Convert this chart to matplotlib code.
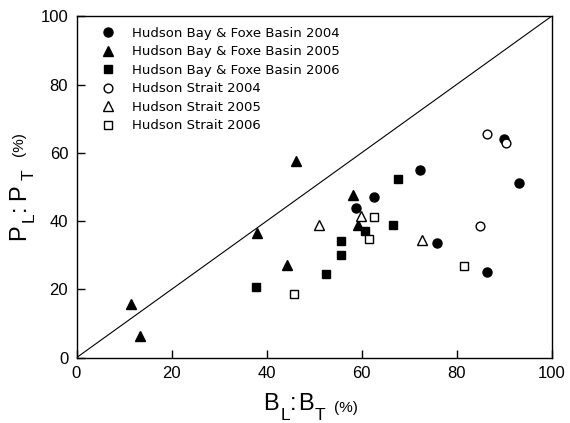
import matplotlib
matplotlib.use("Agg")
import matplotlib.pyplot as plt

plt.rcParams['font.family'] = ['Liberation Sans', 'DejaVu Sans']

# Data (B_L:B_T %, P_L:P_T %)
hbfb2004_x = [58.8, 62.7, 72.3, 75.9, 86.4, 89.9, 93.2]
hbfb2004_y = [43.9, 47.1, 55.0, 33.6, 25.1, 64.0, 51.2]
hbfb2005_x = [11.4, 13.4, 37.9, 44.3, 46.2, 58.3, 59.3]
hbfb2005_y = [15.8, 6.3, 36.4, 27.1, 57.7, 47.6, 39.0]
hbfb2006_x = [37.7, 52.6, 55.6, 55.6, 60.7, 66.7, 67.6]
hbfb2006_y = [20.6, 24.4, 30.1, 34.3, 37.2, 39.0, 52.4]
hs2004_x = [85.0, 86.4, 90.5]
hs2004_y = [38.6, 65.5, 62.8]
hs2005_x = [51.0, 59.9, 72.8]
hs2005_y = [38.9, 41.5, 34.6]
hs2006_x = [45.7, 61.6, 62.7, 81.5]
hs2006_y = [18.7, 34.8, 41.3, 26.9]

labels = ["Hudson Bay & Foxe Basin 2004", "Hudson Bay & Foxe Basin 2005",
          "Hudson Bay & Foxe Basin 2006", "Hudson Strait 2004",
          "Hudson Strait 2005", "Hudson Strait 2006"]
xticks = [0, 20, 40, 60, 80, 100]
yticks = [0, 20, 40, 60, 80, 100]

W, H = 570, 423
fig = plt.figure(figsize=(W / 100, H / 100), dpi=100)
ax = fig.add_axes([76.5/W, 1-357.7/H, (551.5-76.5)/W, (357.7-16.3)/H])

series = [
    (hbfb2004_x, hbfb2004_y, 'o', 'black', 6.5),
    (hbfb2005_x, hbfb2005_y, '^', 'black', 7.2),
    (hbfb2006_x, hbfb2006_y, 's', 'black', 5.6),
    (hs2004_x, hs2004_y, 'o', 'white', 6.3),
    (hs2005_x, hs2005_y, '^', 'white', 6.8),
    (hs2006_x, hs2006_y, 's', 'white', 5.5),
]
for (xs, ys, m, fc, ms), lab in zip(series, labels):
    ax.plot(xs, ys, linestyle='none', marker=m, markerfacecolor=fc,
            markeredgecolor='black', markeredgewidth=1.0, markersize=ms,
            label=lab, zorder=3)

ax.plot([0, 100], [0, 100], color='black', lw=0.8, zorder=2)

ax.set_xlim(0, 100)
ax.set_ylim(0, 100)
ax.set_xticks(xticks)
ax.set_yticks(yticks)
ax.tick_params(direction='in', length=6, width=1.0, labelsize=12, pad=6,
               top=False, right=False)
for s in ax.spines.values():
    s.set_linewidth(1.0)

leg = ax.legend(loc='upper left', frameon=False,
                prop={'family': 'DejaVu Sans', 'size': 9.5},
                handlelength=1.0, handletextpad=1.3, labelspacing=0.42,
                borderpad=0.0, borderaxespad=0.0,
                bbox_to_anchor=(0.053, 0.9695))


def px(x, y):
    return x / W, 1 - y / H


# x-axis label pieces: (text, ink-left x px, baseline y px, size)
xlab = [("B", 263, 410, 17), ("L", 281, 419.5, 12.5), (":", 290, 410, 17),
        ("B", 298, 410, 17), ("T", 315, 419.5, 12.5), ("(%)", 334, 411.5, 11)]
for t, x, y, s in xlab:
    fig.text(*px(x, y), t, fontsize=s, ha='left', va='baseline')

# y-axis label pieces: (text, baseline x px, bottom y px, size)
ylab = [("P", 25, 240, 17), ("L", 34, 222, 12.5), (":", 25, 211, 17),
        ("P", 25, 200, 17), ("T", 34, 180, 12.5), ("(%)", 23, 156.5, 11)]
for t, x, y, s in ylab:
    fig.text(*px(x, y), t, fontsize=s, ha='left', va='baseline',
             rotation=90, rotation_mode='anchor')

fig.savefig('out.png', dpi=100)
